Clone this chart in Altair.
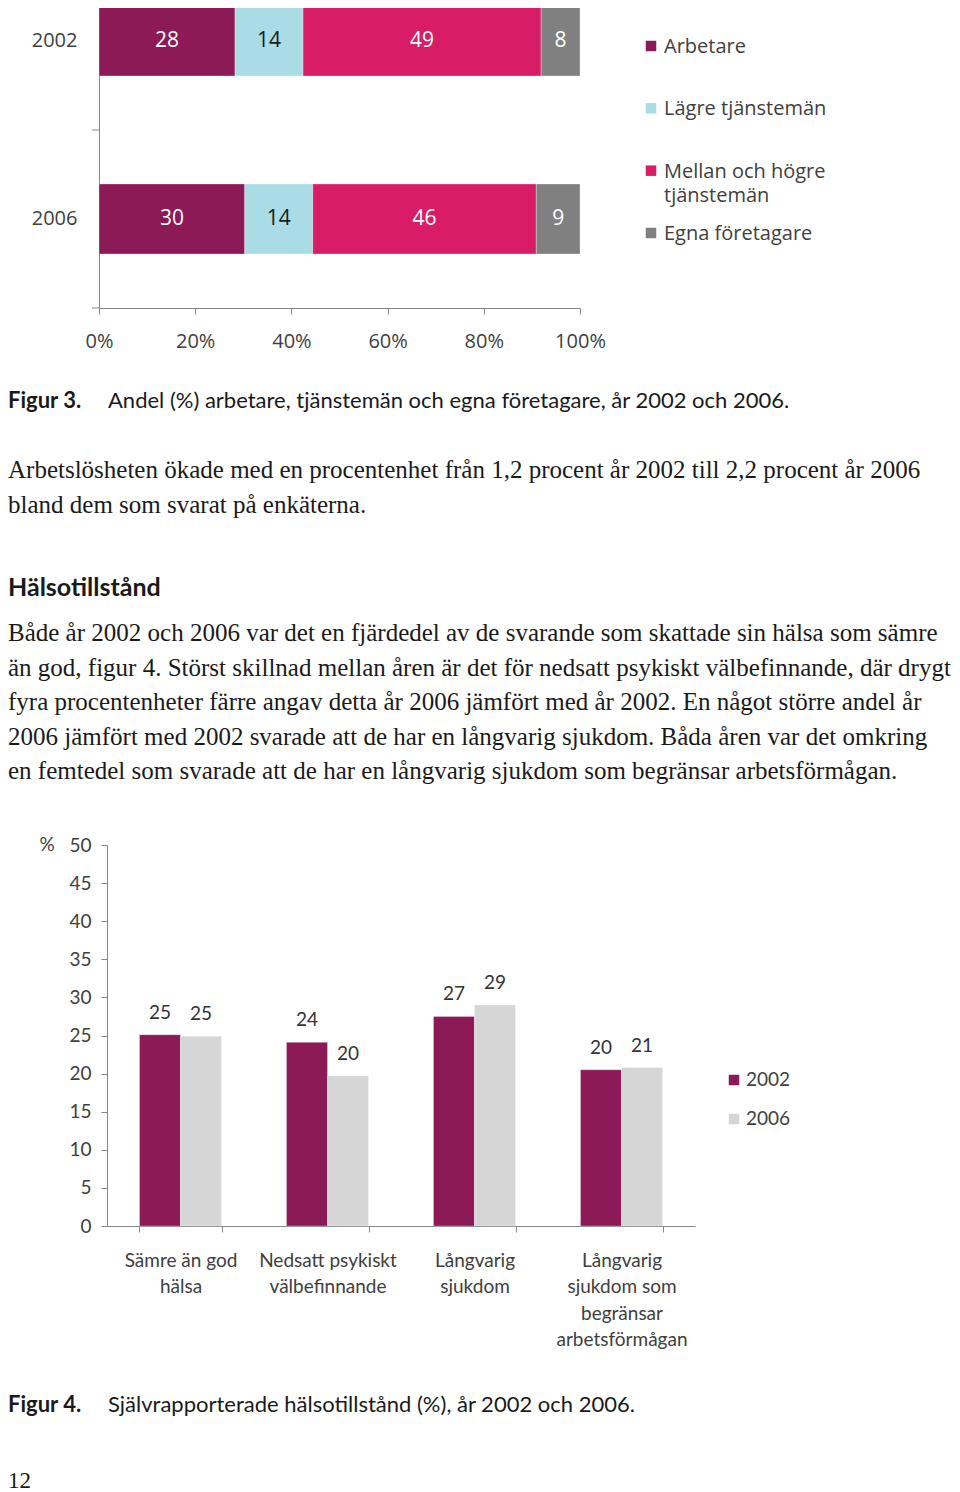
import altair as alt
import pandas as pd

# ---------------- Figure 3 data ----------------
years3 = ["2002", "2006"]
groups3 = ["Arbetare", "Lägre tjänstemän", "Mellan och högre tjänstemän", "Egna företagare"]
legend_labels3 = ["Arbetare", "Lägre tjänstemän", "Mellan och högre\ntjänstemän", "Egna företagare"]
values3_2002 = [28, 14, 49, 8]
values3_2006 = [30, 14, 46, 9]
colors3 = ["#8c1a56", "#a9dce4", "#d91c66", "#808080"]
x_ticks3 = [0, 0.2, 0.4, 0.6, 0.8, 1.0]

# ---------------- Figure 4 data ----------------
cats4 = ["Sämre än god\nhälsa", "Nedsatt psykiskt\nvälbefinnande", "Långvarig\nsjukdom",
         "Långvarig\nsjukdom som\nbegränsar\narbetsförmågan"]
years4 = ["2002", "2006"]
bars4_2002 = [25.1, 24.1, 27.5, 20.5]
bars4_2006 = [24.9, 19.7, 29.0, 20.8]
labels4_2002 = [25, 24, 27, 20]
labels4_2006 = [25, 20, 29, 21]
colors4 = ["#8c1a56", "#d6d6d6"]
y_ticks4 = [0, 5, 10, 15, 20, 25, 30, 35, 40, 45, 50]

# ---------------- Page text ----------------
fig3_label = "Figur 3."
fig3_caption = "Andel (%) arbetare, tjänstemän och egna företagare, år 2002 och 2006."
para1 = ["Arbetslösheten ökade med en procentenhet från 1,2 procent år 2002 till 2,2 procent år 2006",
         "bland dem som svarat på enkäterna."]
heading = "Hälsotillstånd"
para2 = ["Både år 2002 och 2006 var det en fjärdedel av de svarande som skattade sin hälsa som sämre",
         "än god, figur 4. Störst skillnad mellan åren är det för nedsatt psykiskt välbefinnande, där drygt",
         "fyra procentenheter färre angav detta år 2006 jämfört med år 2002. En något större andel år",
         "2006 jämfört med 2002 svarade att de har en långvarig sjukdom. Båda åren var det omkring",
         "en femtedel som svarade att de har en långvarig sjukdom som begränsar arbetsförmågan."]
fig4_label = "Figur 4."
fig4_caption = "Självrapporterade hälsotillstånd (%), år 2002 och 2006."
page_number = "12"

AX = "#868686"
LBL = "#404040"
CF = "Open Sans"
CF4 = "Lato"
SERIF = "Liberation Serif"
SANS = "Lato"
W = 944
LX = 8  # left edge for page text (the svg clips anything further left)

# ================= Chart 1 =================
rows = []
for y, vals in zip(years3, [values3_2002, values3_2006]):
    for i, (g, v) in enumerate(zip(groups3, vals)):
        rows.append({"year": y, "group": g, "value": v, "order": i})
df3 = pd.DataFrame(rows)

xscale3 = alt.Scale(domain=[0, 1], range=[99, 580])
yscale3 = alt.Scale(domain=years3, paddingInner=0.607, paddingOuter=0.1686, align=0.1)
color3 = alt.Scale(domain=groups3, range=colors3)
xaxis3 = alt.Axis(title=None, values=x_ticks3, format="%", grid=False, domainColor=AX, tickColor=AX,
                  tickSize=6, labelPadding=17, labelFont=CF, labelFontSize=20, labelColor=LBL,
                  labelFlush=False)
yaxis3 = alt.Axis(title=None, domainColor=AX, ticks=False, tickSize=0, labelFont=CF, labelFontSize=20,
                  labelColor=LBL, labelPadding=22, offset=-99, grid=False)

base3 = alt.Chart(df3).transform_stack(
    stack="value", groupby=["year"], as_=["x0", "x1"], offset="normalize",
    sort=[alt.SortField(field="order", order="ascending")]
).transform_calculate(xm="(datum.x0 + datum.x1) / 2")

bars3 = base3.mark_bar(stroke="#ffffff", strokeWidth=0.6, strokeOpacity=0.5).encode(
    x=alt.X("x0:Q", scale=xscale3, axis=xaxis3),
    x2="x1:Q",
    y=alt.Y("year:N", scale=yscale3, axis=yaxis3),
    color=alt.Color("group:N", scale=color3, legend=None),
)
text3 = base3.mark_text(font=CF, fontSize=21, baseline="middle").encode(
    x=alt.X("xm:Q", scale=xscale3, axis=xaxis3),
    y=alt.Y("year:N", scale=yscale3, axis=yaxis3),
    text=alt.Text("value:Q"),
    color=alt.condition("datum.group == 'Lägre tjänstemän'", alt.value("#1a1a1a"), alt.value("#ffffff")),
)
ticks3 = alt.Chart(pd.DataFrame({"year": years3})).mark_rule(color=AX, yOffset=89).encode(
    y=alt.Y("year:N", scale=yscale3, axis=yaxis3),
    x=alt.value(92), x2=alt.value(99),
)

leg3 = pd.DataFrame({"group": groups3, "label": legend_labels3})
leg_y3 = alt.Y("group:N", scale=alt.Scale(type="point", domain=groups3, range=[46, 233], padding=0), axis=None)
leg_sq3 = alt.Chart(leg3).mark_square(size=110, opacity=1).encode(
    x=alt.value(651), y=leg_y3, color=alt.Color("group:N", scale=color3, legend=None))
leg_tx3 = alt.Chart(leg3).mark_text(align="left", baseline="top", dy=-9, lineBreak="\n", lineHeight=24,
                                    font=CF, fontSize=20, color=LBL).encode(
    x=alt.value(664), y=leg_y3, text="label:N")

chart3 = alt.layer(alt.layer(bars3, text3, ticks3), leg_sq3, leg_tx3).resolve_scale(
    y="independent").properties(width=W, height=308)

# ================= Chart 2 (Figur 4) =================
rows = []
for y, vals, labs in zip(years4, [bars4_2002, bars4_2006], [labels4_2002, labels4_2006]):
    for c, v, l in zip(cats4, vals, labs):
        rows.append({"cat": c, "year": y, "value": v, "label": l})
df4 = pd.DataFrame(rows)

xscale4 = alt.Scale(domain=cats4, range=[107, 695], paddingInner=0.442, paddingOuter=0.221)
yscale4 = alt.Scale(domain=[0, 50], range=[396, 15])
color4 = alt.Scale(domain=years4, range=colors4)
xaxis4 = alt.Axis(title=None, labelAngle=0, tickBand="extent", tickSize=6, tickColor=AX, domainColor=AX,
                  labelFont=CF4, labelFontSize=19, labelColor=LBL, labelLineHeight=26.5, labelPadding=19,
                  labelExpr="split(datum.label, '\\n')", grid=False)
yaxis4 = alt.Axis(title=None, values=y_ticks4, tickSize=6, tickColor=AX, domainColor=AX, offset=-107,
                  labelPadding=10, labelFont=CF4, labelFontSize=19, labelColor=LBL, grid=False)

enc4 = dict(
    x=alt.X("cat:N", scale=xscale4, axis=xaxis4, sort=cats4),
    xOffset=alt.XOffset("year:N", scale=alt.Scale(domain=years4, paddingInner=0)),
    y=alt.Y("value:Q", scale=yscale4, axis=yaxis4),
)
bars4 = alt.Chart(df4).mark_bar(stroke="#ffffff", strokeWidth=0.6, strokeOpacity=0.5).encode(
    color=alt.Color("year:N", scale=color4, legend=None), **enc4)
text4 = alt.Chart(df4).mark_text(font=CF4, fontSize=19, color="#333333", baseline="middle", dy=-22).encode(
    text="label:Q", **enc4)

leg4 = pd.DataFrame({"year": years4})
leg_y4 = alt.Y("year:N", scale=alt.Scale(type="point", domain=years4, range=[250, 289], padding=0), axis=None)
leg_sq4 = alt.Chart(leg4).mark_square(size=110, opacity=1).encode(
    x=alt.value(734), y=leg_y4, color=alt.Color("year:N", scale=color4, legend=None))
leg_tx4 = alt.Chart(leg4).mark_text(align="left", baseline="middle", font=CF4, fontSize=19, color=LBL).encode(
    x=alt.value(746), y=leg_y4, text="year:N")
pct4 = alt.Chart(alt.Data(values=[{}])).mark_text(text="%", align="center", baseline="middle", font=CF4,
                                                   fontSize=19, color=LBL).encode(
    x=alt.value(47), y=alt.value(15))

chart4 = alt.layer(alt.layer(bars4, text4), leg_sq4, leg_tx4, pct4).resolve_scale(
    y="independent").properties(width=W, height=396)


# ================= Text rows =================
def T(text, x, y, font, size, weight="normal", color="#1a1a1a"):
    return alt.Chart(alt.Data(values=[{}])).mark_text(
        text=text, align="left", baseline="middle", font=font, fontSize=size, fontWeight=weight, color=color
    ).encode(x=alt.value(x), y=alt.value(y))


texts_mid = [
    T(fig3_label, LX, 93, SANS, 22, "bold"),
    T(fig3_caption, 108, 93, SANS, 22),
    T(heading, LX, 280, SANS, 25, "bold"),
]
for i, line in enumerate(para1):
    texts_mid.append(T(line, LX, 162 + i * 35, SERIF, 25))
for i, line in enumerate(para2):
    texts_mid.append(T(line, LX, 325 + i * 34.5, SERIF, 25))
row_mid = alt.layer(*texts_mid).properties(width=W, height=522)

row_end = alt.layer(
    T(fig4_label, LX, 179, SANS, 22, "bold"),
    T(fig4_caption, 108, 179, SANS, 22),
    T(page_number, LX, 255, SERIF, 23),
).properties(width=W, height=266)

chart = alt.vconcat(chart3, row_mid, chart4, row_end, spacing=0, bounds="flush").resolve_scale(
    color="independent"
).properties(
    padding={"left": -8, "top": -8, "right": 0, "bottom": 0},
    background="white",
).configure_view(stroke=None)

chart.save("out.html", embed_options={"renderer": "svg", "actions": False})
